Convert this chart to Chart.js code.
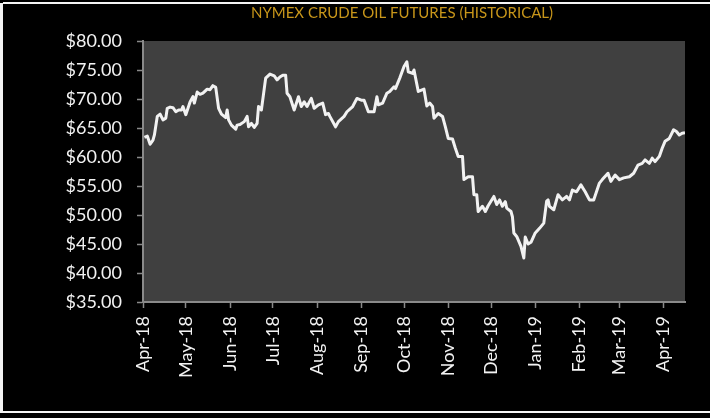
<!DOCTYPE html>
<html>
<head>
<meta charset="utf-8">
<title>NYMEX Crude Oil Futures</title>
<script src="https://cdn.jsdelivr.net/npm/chart.js@4.4.0/dist/chart.umd.min.js"></script>
<style>
  html, body { margin: 0; padding: 0; background: #000; }
  #wrap { position: relative; width: 710px; height: 418px; background: #000; overflow: hidden; }
  #wrap .rule { position: absolute; background: #f4f4f4; }
  canvas { position: absolute; left: 0; top: 0; }
</style>
</head>
<body>
<div id="wrap">
  <canvas id="oilChart" width="710" height="418"></canvas>
  <div class="rule" style="left:3px;top:2px;width:707px;height:2px"></div>
  <div class="rule" style="left:0;top:3px;width:3px;height:410px"></div>
  <div class="rule" style="left:0;top:411px;width:710px;height:2px"></div>
</div>
<script>
var chartTitle = 'NYMEX CRUDE OIL FUTURES (HISTORICAL)';

// settle prices, USD/bbl
var tradeDates = [
  '2018-04-02','2018-04-04','2018-04-06','2018-04-08','2018-04-09','2018-04-11','2018-04-13','2018-04-15',
  '2018-04-17','2018-04-18','2018-04-20','2018-04-22','2018-04-24','2018-04-26','2018-04-28','2018-04-29',
  '2018-05-01','2018-05-04','2018-05-06','2018-05-07','2018-05-09','2018-05-11','2018-05-13','2018-05-16',
  '2018-05-18','2018-05-20','2018-05-22','2018-05-24','2018-05-26','2018-05-29','2018-05-30','2018-05-31',
  '2018-06-02','2018-06-05','2018-06-06','2018-06-08','2018-06-11','2018-06-13','2018-06-14','2018-06-16',
  '2018-06-18','2018-06-20','2018-06-21','2018-06-23','2018-06-26','2018-06-29','2018-07-02','2018-07-04',
  '2018-07-06','2018-07-08','2018-07-10','2018-07-11','2018-07-13','2018-07-16','2018-07-19','2018-07-21',
  '2018-07-23','2018-07-25','2018-07-28','2018-07-30','2018-08-02','2018-08-05','2018-08-07','2018-08-09',
  '2018-08-10','2018-08-14','2018-08-16','2018-08-20','2018-08-22','2018-08-26','2018-08-29','2018-09-01',
  '2018-09-03','2018-09-06','2018-09-10','2018-09-12','2018-09-13','2018-09-16','2018-09-19','2018-09-21',
  '2018-09-24','2018-09-25','2018-09-28','2018-10-01','2018-10-03','2018-10-04','2018-10-07','2018-10-08',
  '2018-10-11','2018-10-15','2018-10-17','2018-10-19','2018-10-21','2018-10-22','2018-10-25','2018-10-28',
  '2018-10-30','2018-11-01','2018-11-04','2018-11-06','2018-11-08','2018-11-11','2018-11-12','2018-11-15',
  '2018-11-18','2018-11-19','2018-11-21','2018-11-22','2018-11-25','2018-11-27','2018-11-29','2018-12-03',
  '2018-12-05','2018-12-07','2018-12-09','2018-12-11','2018-12-12','2018-12-15','2018-12-16','2018-12-17',
  '2018-12-19','2018-12-22','2018-12-24','2018-12-25','2018-12-27','2018-12-29','2019-01-01','2019-01-04',
  '2019-01-07','2019-01-09','2019-01-10','2019-01-11','2019-01-14','2019-01-17','2019-01-20','2019-01-23',
  '2019-01-25','2019-01-27','2019-01-30','2019-02-02','2019-02-05','2019-02-08','2019-02-11','2019-02-15',
  '2019-02-17','2019-02-21','2019-02-23','2019-02-26','2019-03-01','2019-03-04','2019-03-08','2019-03-11',
  '2019-03-14','2019-03-17','2019-03-19','2019-03-22','2019-03-24','2019-03-26','2019-03-29','2019-03-31',
  '2019-04-02','2019-04-05','2019-04-08','2019-04-10','2019-04-12','2019-04-14','2019-04-16'
];
var prices = [
  63.4, 63.6, 62.2, 62.9, 63.8, 67.0, 67.4, 66.4,
  66.7, 68.4, 68.6, 68.5, 67.8, 68.1, 68.1, 68.7,
  67.3, 69.5, 70.4, 69.3, 71.2, 70.8, 71.0, 71.7,
  71.6, 72.3, 72.0, 68.4, 67.4, 66.8, 68.1, 66.4,
  65.5, 64.8, 65.5, 65.6, 66.1, 67.0, 65.2, 65.8,
  65.1, 65.8, 68.7, 68.1, 73.6, 74.3, 74.0, 73.3,
  73.8, 74.1, 74.1, 71.0, 70.4, 68.1, 70.4, 68.7,
  69.5, 68.7, 70.1, 68.4, 69.0, 69.3, 67.3, 67.5,
  67.0, 65.2, 66.1, 67.0, 67.8, 68.7, 70.1, 69.8,
  69.8, 67.8, 67.8, 70.4, 69.0, 69.3, 71.0, 71.3,
  72.1, 71.8, 73.6, 75.6, 76.4, 74.7, 74.4, 75.0,
  71.3, 71.7, 68.8, 69.3, 68.7, 66.7, 67.5, 67.0,
  65.2, 63.2, 63.1, 61.5, 60.1, 60.1, 56.1, 56.6,
  56.6, 53.5, 53.5, 50.6, 51.5, 50.6, 51.6, 53.2,
  51.8, 52.6, 51.5, 52.3, 51.2, 50.6, 49.7, 46.9,
  46.3, 44.6, 42.6, 46.2, 45.0, 45.3, 46.9, 47.7,
  48.6, 52.4, 52.6, 51.5, 50.9, 53.5, 52.6, 53.2,
  52.6, 54.3, 54.0, 55.2, 54.0, 52.6, 52.6, 55.5,
  56.1, 57.2, 55.8, 56.9, 56.1, 56.4, 56.6, 57.2,
  58.6, 58.9, 59.5, 58.9, 59.8, 59.2, 60.1, 61.5,
  62.7, 63.2, 64.7, 64.4, 63.8, 64.1, 64.2
];

var tickDates = [
  '2018-04-01','2018-05-01','2018-06-01','2018-07-01','2018-08-01','2018-09-01','2018-10-01',
  '2018-11-01','2018-12-01','2019-01-01','2019-02-01','2019-03-01','2019-04-01'
];
var tickLabels = [
  'Apr-18','May-18','Jun-18','Jul-18','Aug-18','Sep-18','Oct-18',
  'Nov-18','Dec-18','Jan-19','Feb-19','Mar-19','Apr-19'
];
var axisStart = '2018-04-01';
var axisEnd = '2019-04-16';

var t0 = Date.parse(axisStart);
function dayNum(s) {
  return Math.round((Date.parse(s) - t0) / 86400000);
}

var points = tradeDates.map(function (d, i) {
  return { x: dayNum(d), y: prices[i] };
});

// dark grey plot area + title drawn above it
var plotBg = {
  id: 'plotBg',
  beforeDraw: function (chart) {
    var a = chart.chartArea, c = chart.ctx;
    c.save();
    c.fillStyle = '#404040';
    c.fillRect(a.left, a.top, a.right - a.left, a.bottom - a.top);
    c.restore();
  },
  afterDraw: function (chart) {
    var c = chart.ctx;
    c.save();
    c.font = '15px Lato';
    c.fillStyle = '#c8961a';
    c.textAlign = 'center';
    c.textBaseline = 'middle';
    c.fillText(chartTitle, 402, 13);
    c.restore();
  }
};

var axisGrey = '#8a8a8a';
var labelFont = { family: 'Lato', size: 18 };

var ctx = document.getElementById('oilChart').getContext('2d');
var oilChart = new Chart(ctx, {
  type: 'line',
  data: {
    datasets: [{
      data: points,
      borderColor: '#f2f2f2',
      borderWidth: 3,
      borderJoinStyle: 'round',
      pointRadius: 0,
      tension: 0,
      fill: false
    }]
  },
  options: {
    responsive: false,
    animation: false,
    layout: { padding: { top: 41, right: 25, left: 0, bottom: 0 } },
    plugins: {
      legend: { display: false },
      title: { display: false },
      tooltip: { enabled: false }
    },
    scales: {
      x: {
        type: 'linear',
        min: 0,
        max: dayNum(axisEnd),
        afterBuildTicks: function (scale) {
          scale.ticks = tickDates.map(function (d) { return { value: dayNum(d) }; });
        },
        afterFit: function (scale) { scale.height = 116; },
        grid: { drawOnChartArea: false, color: axisGrey, tickLength: 6, tickWidth: 1.5 },
        border: { color: axisGrey, width: 2 },
        ticks: {
          autoSkip: false,
          minRotation: 90,
          maxRotation: 90,
          padding: 8,
          color: '#f2f2f2',
          font: labelFont,
          callback: function (v, i) { return tickLabels[i]; }
        }
      },
      y: {
        min: 35,
        max: 80,
        afterFit: function (scale) { scale.width = 143; },
        grid: { drawOnChartArea: false, color: axisGrey, tickLength: 6, tickWidth: 1.5 },
        border: { color: axisGrey, width: 2 },
        ticks: {
          stepSize: 5,
          padding: 15,
          color: '#f2f2f2',
          font: labelFont,
          callback: function (v) { return '$' + v.toFixed(2); }
        }
      }
    }
  },
  plugins: [plotBg]
});
</script>
</body>
</html>
